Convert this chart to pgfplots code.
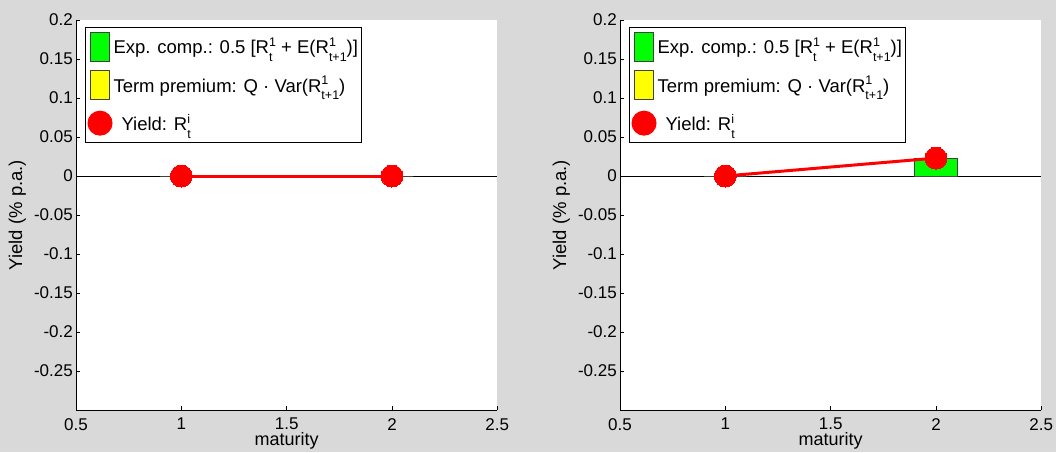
\documentclass[border=0pt]{standalone}
\usepackage{pgfplots}
\pgfplotsset{compat=1.18}
\usepackage{fontspec}
\setmainfont{Liberation Sans}
\definecolor{bg}{RGB}{217,217,217}
\definecolor{mgreen}{RGB}{0,255,0}
\definecolor{myellow}{RGB}{255,255,0}
\definecolor{mred}{RGB}{255,0,0}
\newcommand{\sups}[1]{\raisebox{7.6pt}{\fontsize{12.5}{12.5}\selectfont #1}}
\newcommand{\subs}[1]{\raisebox{-7.5pt}{\fontsize{12.5}{12.5}\selectfont #1}}
% R with superscript (first) and subscript (second) stacked
\newcommand{\RSa}[2]{R\rlap{\subs{#2}}\sups{#1}}
\newcommand{\RSb}[2]{R\rlap{\sups{#1}}\subs{#2}}
\pgfplotsset{
  mystyle/.style={
    anchor=south west, scale only axis, height=390pt, width=421.3pt,
    xmin=0.5, xmax=2.5, ymin=-0.3, ymax=0.2,
    axis background/.style={fill=white},
    axis x line*=bottom, axis y line*=left,
    axis line style={black, line width=0.8pt},
    tick align=inside, major tick length=4pt,
    tick style={black, line width=0.8pt},
    xtick={0.5,1,1.5,2,2.5}, xticklabels={0.5,1,1.5,2,2.5},
    ytick={-0.25,-0.2,-0.15,-0.1,-0.05,0,0.05,0.1,0.15,0.2},
    yticklabels={-0.25,-0.2,-0.15,-0.1,-0.05,0,0.05,0.1,0.15,0.2},
    ticklabel style={font=\fontsize{17}{20}\selectfont},
    xticklabel style={anchor=north, inner sep=0pt, yshift=-8pt},
    yticklabel style={anchor=east, inner sep=0pt, xshift=-3pt},
    xlabel={maturity},
    xlabel style={font=\fontsize{18}{21}\selectfont, at={(axis description cs:0.5,-0.0795)}, anchor=center},
    ylabel={Yield (\% p.a.)},
    ylabel style={font=\fontsize{18.5}{21}\selectfont, anchor=center, at={(axis description cs:-0.139,0.5)}},
    legend style={at={(axis description cs:0.0214,0.983)}, anchor=north west,
      draw=black, line width=1pt, fill=white,
      font=\fontsize{18.5}{22}\selectfont,
      inner xsep=2pt, inner ysep=4.5pt, row sep=8.5pt,
      nodes={inner sep=1pt}},
    legend cell align=left,
    clip=false,
  },
  greenleg/.style={legend image code/.code={\draw[fill=mgreen, draw=black!75, line width=1pt] (1pt,-14.5pt) rectangle (20pt,14.5pt);}},
  yellowleg/.style={legend image code/.code={\draw[fill=myellow, draw=black!75, line width=1pt] (1pt,-14.5pt) rectangle (20pt,14.5pt);}},
  redleg/.style={legend image code/.code={\path[draw=none, fill=none] (0pt,-14.5pt) rectangle (21pt,14.5pt); \fill[mred] (10.5pt,0pt) circle (11pt);}},
  barstyle/.style={ybar, bar width=0.2, bar shift=0pt, draw=black!75, line width=1pt},
  yieldstyle/.style={mred, line width=3pt, mark=*, mark size=11pt, mark options={fill=mred, draw=mred, line width=0pt}},
}
\begin{document}
\begin{tikzpicture}[x=1pt,y=1pt]
\fill[bg] (0,0) rectangle (1056,452);
% ---------- left panel ----------
\begin{axis}[mystyle, at={(76pt,42pt)}]
\addplot[black, line width=0.8pt, forget plot] coordinates {(0.5,0) (2.5,0)};
\addplot[barstyle, fill=mgreen, greenleg] coordinates {(1,0) (2,0)};
\addplot[barstyle, fill=myellow, yellowleg] coordinates {(1,0) (2,0)};
\addplot[yieldstyle, redleg] coordinates {(1,0) (2,0)};
\legend{Exp. comp.: 0.5 [\RSa{1}{t} + E(\RSb{1}{t+1})],
        Term premium: Q · Var(\RSb{1}{t+1}),
        \hspace{8pt}Yield: \RSb{i}{t}}
\end{axis}
% ---------- right panel ----------
\begin{axis}[mystyle, at={(620pt,42pt)}]
\addplot[black, line width=0.8pt, forget plot] coordinates {(0.5,0) (2.5,0)};
\addplot[barstyle, fill=mgreen, greenleg] coordinates {(1,0) (2,0.023)};
\addplot[barstyle, fill=myellow, yellowleg] coordinates {(1,0) (2,0)};
\addplot[yieldstyle, redleg] coordinates {(1,0) (2,0.023)};
\legend{Exp. comp.: 0.5 [\RSa{1}{t} + E(\RSb{1}{t+1})],
        Term premium: Q · Var(\RSb{1}{t+1}),
        \hspace{8pt}Yield: \RSb{i}{t}}
\end{axis}
\end{tikzpicture}
\end{document}
